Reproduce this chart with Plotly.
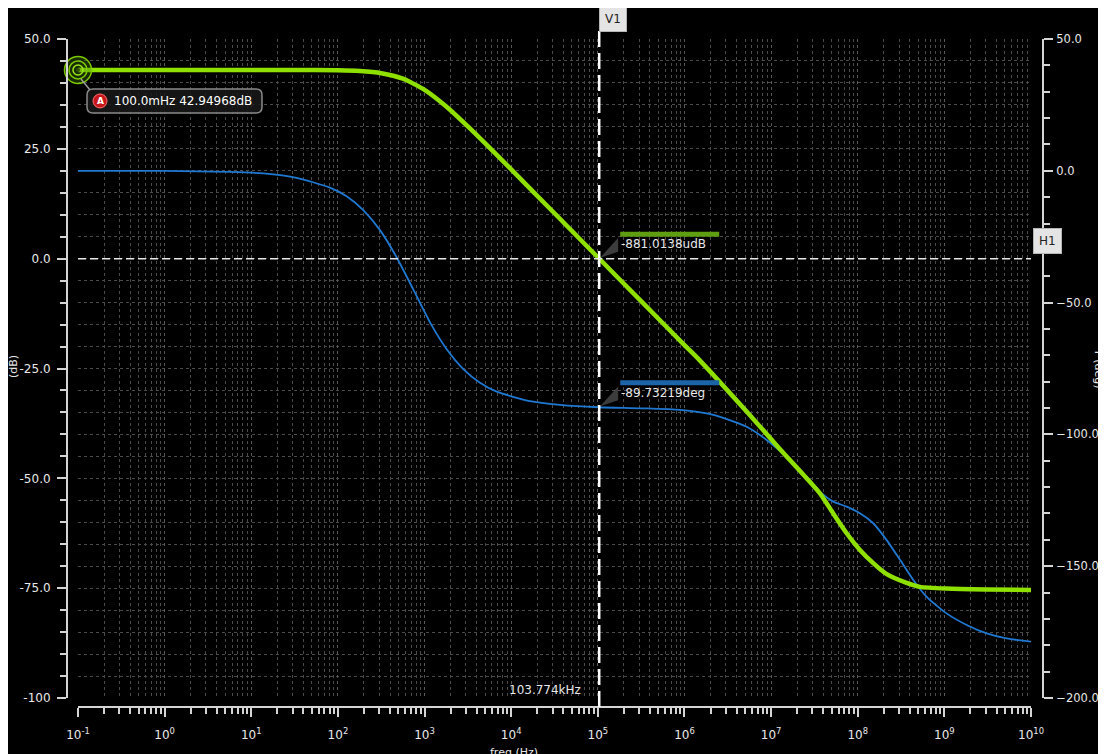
import math
import plotly.graph_objects as go

# ---------------- data ----------------
mag_freq = [0.1, 1, 10, 30, 100, 178, 316, 562, 1000, 1780, 3160, 5620, 1.0e4, 3.16e4,
            1.0e5, 3.16e5, 1.0e6, 1.51e6, 5.22e6, 1.26e7, 3.66e7, 5.22e7, 7.45e7, 1.06e8,
            1.51e8, 2.16e8, 3.67e8, 5.22e8, 1.06e9, 3.0e9, 1.0e10]
mag_db = [42.95, 42.95, 42.95, 42.94, 42.87, 42.71, 42.22, 40.97, 38.43, 34.64, 30.10, 25.26,
          20.31, 10.33, 0.32, -9.67, -19.67, -23.2, -34.8, -43.3, -53.4, -58.0, -62.5, -66.3,
          -69.3, -71.8, -73.8, -74.7, -75.1, -75.3, -75.4]

phase_freq = [0.1, 1, 5.68, 13.8, 33.4, 81.1, 126, 196, 306, 476, 741, 1156, 1803, 2800,
              4365, 6808, 16480, 36560, 1.0e5, 3.16e5, 8.87e5, 2.15e6, 5.22e6, 8.89e6,
              1.65e7, 2.57e7, 3.66e7, 5.22e7, 7.45e7, 1.06e8, 1.51e8, 2.16e8, 3.08e8,
              4.38e8, 6.25e8, 1.06e9, 1.81e9, 3.08e9, 5.22e9, 1.0e10]
phase_deg = [0.0, -0.05, -0.4, -1.0, -2.7, -6.4, -9.7, -14.9, -22.5, -32.8, -45.0, -57.5,
             -67.7, -75.2, -80.4, -83.8, -87.4, -88.8, -89.7, -90.1, -90.7, -92.6, -97.1,
             -102.1, -109.7, -116.0, -121.7, -125.5, -127.4, -129.9, -133.7, -140.1,
             -147.6, -155.2, -161.6, -167.9, -172.3, -175.5, -177.4, -178.6]

x_tick_exp = list(range(-1, 11))
left_tick_vals = [50, 25, 0, -25, -50, -75, -100]
left_tick_text = ["50.0", "25.0", "0.0", "-25.0", "-50.0", "-75.0", "-100"]

marker_a_freq = 0.1
marker_a_db = 42.94968
marker_a_label = "100.0mHz 42.94968dB"
cursor_freq = 103774.0
cursor_freq_label = "103.774kHz"
cursor_mag_label = "-881.0138udB"
cursor_mag = -881.0138e-6
cursor_phase = -89.73219
cursor_phase_label = "-89.73219deg"
h_cursor_db = 0.0

# ---------------- layout geometry ----------------
# page body adds an 8px offset; positions below are given in screenshot pixels
OFF = 8
W, H = 1106 - OFF, 754 - OFF
L, R, T, B = 67 - OFF, 1106 - 1043, 39 - OFF, 754 - 707
PW, PH = W - L - R, H - T - B


def px_x(p):
    return (p - OFF - L) / PW


def px_y(p):
    return (H - B - (p - OFF)) / PH


x_dom = [px_x(78), px_x(1031)]
y_dom = [px_y(698), 1.0]

GREEN = "#8ee000"
BLUE = "#1f78d1"
TXT = "#e8e8e8"
AXC = "#d4d4d4"
GRID = "#4a4a4a"
FONT = "DejaVu Sans"

minor_x_vals = [m * 10.0 ** e for e in range(-1, 10) for m in range(2, 10)]

fig = go.Figure()

fig.add_trace(go.Scatter(x=phase_freq, y=phase_deg, yaxis="y2", mode="lines",
                         line=dict(color=BLUE, width=1.8, shape="spline", smoothing=0.6),
                         hoverinfo="skip", showlegend=False))
fig.add_trace(go.Scatter(x=mag_freq, y=mag_db, yaxis="y", mode="lines",
                         line=dict(color=GREEN, width=4.5, shape="spline", smoothing=0.6),
                         hoverinfo="skip", showlegend=False))
# marker A target
for sym, size, col, lw, fill in [("circle", 27, "#7cc800", 1.5, "rgba(70,120,0,0.35)"),
                                 ("circle-open", 18, "#7cc800", 1.5, None),
                                 ("circle-open", 10, "#9be81a", 1.5, None),
                                 ("circle", 4, "#2d5200", 0, "#2d5200")]:
    fig.add_trace(go.Scatter(x=[marker_a_freq], y=[marker_a_db], yaxis="y", mode="markers",
                             marker=dict(symbol=sym, size=size,
                                         color=fill if fill else col,
                                         line=dict(color=col, width=lw)),
                             cliponaxis=False, hoverinfo="skip", showlegend=False))

tick_font = dict(family=FONT, size=12, color=TXT)

fig.update_layout(
    width=W, height=H,
    margin=dict(l=L, r=R, t=T, b=B, pad=0, autoexpand=False),
    paper_bgcolor="black", plot_bgcolor="black",
    font=dict(family=FONT, size=12, color=TXT),
    showlegend=False,
    xaxis=dict(type="log", domain=x_dom, anchor="free", position=0, automargin=False,
               range=[-1, 10], tickvals=[10.0 ** e for e in x_tick_exp],
               ticktext=["10<sup>%d</sup>" % e for e in x_tick_exp],
               ticks="outside", ticklen=9, tickwidth=1.5, tickcolor=AXC,
               showline=True, linecolor=AXC, linewidth=2,
               showgrid=True, gridcolor="#575757", griddash="dot", gridwidth=1,
               tickfont=tick_font, zeroline=False, ticklabelstandoff=8,
               minor=dict(tickmode="array", tickvals=minor_x_vals, ticks="outside",
                          ticklen=6, tickwidth=1.5, tickcolor=AXC, showgrid=True,
                          gridcolor=GRID, griddash="dot", gridwidth=1)),
    yaxis2=dict(domain=y_dom, anchor="free", position=1, side="right", automargin=False,
                range=[-200, 50], dtick=50, tick0=0, tickformat=".1f",
                ticks="outside", ticklen=9, tickwidth=1.5, tickcolor=AXC,
                showline=True, linecolor=AXC, linewidth=2, showgrid=False,
                zeroline=False, tickfont=dict(family=FONT, size=11.5, color=TXT),
                ticklabelstandoff=1,
                minor=dict(dtick=10, tick0=0, ticks="outside", ticklen=6,
                           tickwidth=1.5, tickcolor=AXC, showgrid=False)),
    yaxis=dict(domain=y_dom, anchor="free", position=0, side="left", overlaying="y2",
               automargin=False,
               range=[-100, 50], tickmode="array", tickvals=left_tick_vals,
               ticktext=left_tick_text,
               ticks="outside", ticklen=9, tickwidth=1.5, tickcolor=AXC,
               showline=True, linecolor=AXC, linewidth=2,
               showgrid=True, gridcolor=GRID, griddash="dot", gridwidth=1,
               zeroline=False, tickfont=tick_font, ticklabelstandoff=4,
               minor=dict(tickmode="linear", tick0=0, dtick=5, ticks="outside",
                          ticklen=6, tickwidth=1.5, tickcolor=AXC, showgrid=True,
                          gridcolor=GRID, griddash="dot", gridwidth=1)),
)

shapes = []
# vertical cursor V1
shapes.append(dict(type="line", xref="x", yref="paper", x0=cursor_freq, x1=cursor_freq,
                   y0=0, y1=px_y(30), line=dict(color="white", width=2.5, dash="16px,6px")))
# horizontal cursor H1
shapes.append(dict(type="line", xref="x domain", yref="y", x0=0, x1=1,
                   y0=h_cursor_db, y1=h_cursor_db,
                   line=dict(color="#e6e6e6", width=1.5, dash="8px,4px")))
# cursor intersection labels: coloured bar + pointer
for yref, yval, barcol in [("y", cursor_mag, "#5f9e10"), ("y2", cursor_phase, "#1c64a8")]:
    shapes.append(dict(type="rect", xref="x", xsizemode="pixel", xanchor=cursor_freq,
                       x0=21, x1=120, yref=yref, ysizemode="pixel", yanchor=yval,
                       y0=22, y1=27, fillcolor=barcol, line=dict(width=0)))
    shapes.append(dict(type="path", xref="x", xsizemode="pixel", xanchor=cursor_freq,
                       yref=yref, ysizemode="pixel", yanchor=yval,
                       path="M 1,1 L 19,21 L 19,7 Z", fillcolor="rgba(150,150,150,0.4)",
                       line=dict(width=0)))
# marker A label box, connector and badge
shapes.append(dict(type="line", xref="x", xsizemode="pixel", xanchor=marker_a_freq,
                   yref="y", ysizemode="pixel", yanchor=marker_a_db,
                   x0=3, x1=12, y0=-9, y1=-20, line=dict(color="#9a9a9a", width=1.5)))
shapes.append(dict(type="path", xref="x", xsizemode="pixel", xanchor=marker_a_freq,
                   yref="y", ysizemode="pixel", yanchor=marker_a_db,
                   path="M 15,-19 L 178,-19 Q 184,-19 184,-25 L 184,-37 Q 184,-43 178,-43 "
                        "L 15,-43 Q 9,-43 9,-37 L 9,-25 Q 9,-19 15,-19 Z",
                   fillcolor="rgba(25,25,25,0.85)", line=dict(color="#8a8a8a", width=1.5)))
shapes.append(dict(type="circle", xref="x", xsizemode="pixel", xanchor=marker_a_freq,
                   yref="y", ysizemode="pixel", yanchor=marker_a_db,
                   x0=15, x1=29, y0=-38, y1=-24, fillcolor="#c8161d",
                   line=dict(color="#ff7070", width=1)))
fig.update_layout(shapes=shapes)

lx = math.log10(cursor_freq)
ann = []
ann.append(dict(x=math.log10(marker_a_freq), y=marker_a_db, xref="x", yref="y",
                text=marker_a_label, showarrow=False, xanchor="left", yanchor="middle",
                xshift=34, yshift=-31, font=dict(size=12, color="white")))
ann.append(dict(x=math.log10(marker_a_freq), y=marker_a_db, xref="x", yref="y",
                text="<b>A</b>", showarrow=False, xanchor="center", yanchor="middle",
                xshift=22, yshift=-31, font=dict(size=9, color="white")))
ann.append(dict(x=lx, y=px_y(19), xref="x", yref="paper", text="V1", showarrow=False,
                xanchor="left", yanchor="middle", bgcolor="#e4e4e4", bordercolor="#b5b5b5",
                borderwidth=1, borderpad=5, font=dict(size=12, color="#222222")))
ann.append(dict(x=px_x(1033), y=h_cursor_db, xref="paper", yref="y", text="H1",
                showarrow=False, xanchor="left", yanchor="bottom", yshift=5,
                bgcolor="#e4e4e4", bordercolor="#b5b5b5", borderwidth=1, borderpad=5,
                font=dict(size=12, color="#222222")))
ann.append(dict(x=lx, y=px_y(690), xref="x", yref="paper", text=cursor_freq_label,
                showarrow=False, xanchor="right", yanchor="middle", xshift=-16,
                font=dict(size=12, color=TXT)))
ann.append(dict(x=lx, y=cursor_mag, xref="x", yref="y", text=cursor_mag_label,
                showarrow=False, xanchor="left", yanchor="middle", xshift=20, yshift=15,
                font=dict(size=12, color=TXT)))
ann.append(dict(x=lx, y=cursor_phase, xref="x", yref="y2", text=cursor_phase_label,
                showarrow=False, xanchor="left", yanchor="middle", xshift=20, yshift=14,
                font=dict(size=12, color=TXT)))
ann.append(dict(x=px_x(13), y=px_y(367), xref="paper", yref="paper", text="(dB)",
                showarrow=False, textangle=-90, xanchor="center", yanchor="middle",
                font=dict(size=11, color=TXT)))
ann.append(dict(x=px_x(1099), y=px_y(368), xref="paper", yref="paper", text="Y (deg)",
                showarrow=False, textangle=90, xanchor="center", yanchor="middle",
                font=dict(size=11, color=TXT)))
ann.append(dict(x=px_x(514), y=px_y(744), xref="paper", yref="paper", text="freq (Hz)",
                showarrow=False, xanchor="center", yanchor="top",
                font=dict(size=11, color=TXT)))
fig.update_layout(annotations=ann)

fig.write_html("out.html")
